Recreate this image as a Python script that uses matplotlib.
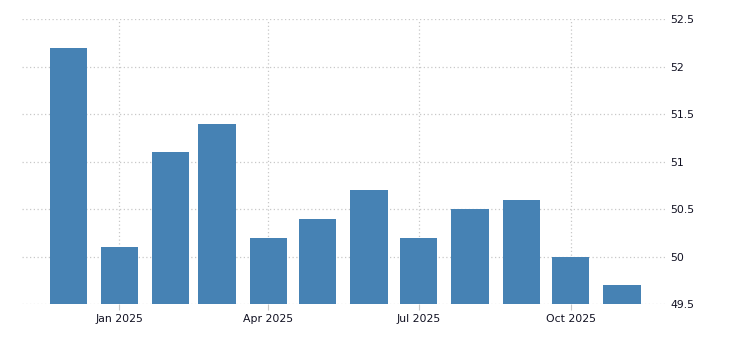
import datetime as dt
import matplotlib
matplotlib.use("Agg")
import matplotlib.pyplot as plt

# monthly values, Dec 2024 .. Nov 2025
months = [dt.date(2024, 12, 1)] + [dt.date(2025, m, 1) for m in range(1, 12)]
values = [52.2, 50.1, 51.1, 51.4, 50.2, 50.4, 50.7, 50.2, 50.5, 50.6, 50.0, 49.7]

tick_dates = [dt.date(2025, 1, 1), dt.date(2025, 4, 1),
              dt.date(2025, 7, 1), dt.date(2025, 10, 1)]
tick_labels = ["Jan 2025", "Apr 2025", "Jul 2025", "Oct 2025"]
y_ticks = [49.5, 50, 50.5, 51, 51.5, 52, 52.5]
y_labels = ["49.5", "50", "50.5", "51", "51.5", "52", "52.5"]

fig = plt.figure(figsize=(7.3, 3.4), dpi=100)
ax = fig.add_axes([0.030, 0.106, 0.881, 0.837])

ax.bar(months, values, width=22.5, color="#4682b4", zorder=2)

ax.set_ylim(49.5, 52.5)
ax.set_xlim(dt.date(2024, 11, 3), dt.date(2025, 11, 27))

ax.set_xticks(tick_dates)
ax.set_xticklabels(tick_labels)
ax.set_yticks(y_ticks)
ax.set_yticklabels(y_labels)
ax.yaxis.tick_right()

for s in ax.spines.values():
    s.set_visible(False)

ax.grid(True, color="#c8c8c8", linestyle=(0, (1, 2)), linewidth=0.9, zorder=0)
ax.tick_params(axis="x", length=4, color="#c8c8c8", labelsize=7.8,
               labelcolor="#111122", pad=3)
ax.tick_params(axis="y", length=0, labelsize=7.8, labelcolor="#111122", pad=4)

fig.savefig("out.png", dpi=100)
